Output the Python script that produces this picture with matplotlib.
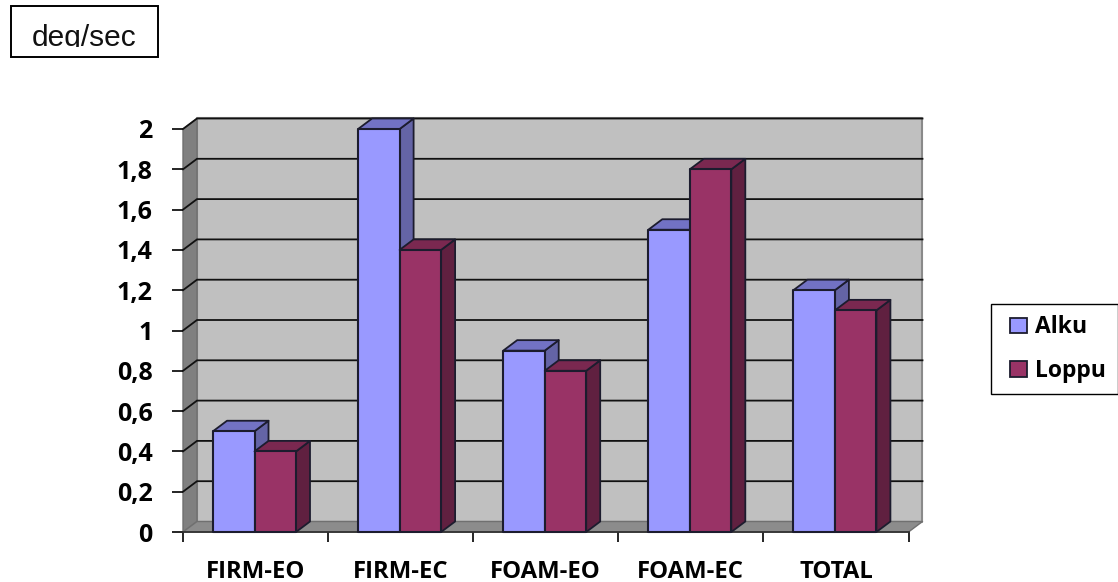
import matplotlib
matplotlib.use("Agg")
import matplotlib.pyplot as plt
from matplotlib.legend_handler import HandlerPatch
from matplotlib.patches import Polygon, Patch, Rectangle

categories = ["FIRM-EO", "FIRM-EC", "FOAM-EO", "FOAM-EC", "TOTAL"]
alku = [0.5, 2.0, 0.9, 1.5, 1.2]
loppu = [0.4, 1.4, 0.8, 1.8, 1.1]
y_ticks = [0, 0.2, 0.4, 0.6, 0.8, 1.0, 1.2, 1.4, 1.6, 1.8, 2.0]
y_labels = ["0", "0,2", "0,4", "0,6", "0,8", "1", "1,2", "1,4", "1,6", "1,8", "2"]

W, H = 1118, 582
L, R, B, T = 183, 908.5, 532, 129
FONT = "Open Sans"

fig = plt.figure(figsize=(W / 100, H / 100), dpi=100, facecolor="white")
ax = fig.add_axes([L / W, 1 - B / H, (R - L) / W, (B - T) / H])
ax.set_xlim(0, 5)
ax.set_ylim(0, 2)
for s in ax.spines.values():
    s.set_visible(False)
ax.patch.set_visible(False)

# depth of the pseudo-3D box, in data units
dx = 14 / ((R - L) / 5)
dy = 10.5 / ((B - T) / 2)
bar_w = 41.5 / ((R - L) / 5)
bar_start = 30 / ((R - L) / 5)


def poly(pts, fc, ec, lw=1.0, z=1):
    ax.add_patch(Polygon(pts, closed=True, facecolor=fc, edgecolor=ec,
                         linewidth=lw, zorder=z, clip_on=False, joinstyle="round"))


# walls and floor
poly([(dx, dy), (5 + dx, dy), (5 + dx, 2 + dy), (dx, 2 + dy)], "#C0C0C0", "#8a8a8a", 1.5, 1)
poly([(0, 0), (dx, dy), (dx, 2 + dy), (0, 2)], "#808080", "#707070", 1.0, 1)
poly([(0, 0), (5, 0), (5 + dx, dy), (dx, dy)], "#8c8c8c", "#707070", 1.0, 1)

# gridlines along the back wall and across the side wall
for v in y_ticks[1:]:
    ax.plot([0, dx, 5 + dx], [v, v + dy, v + dy], color="#111111", lw=1.3,
            zorder=2, clip_on=False, solid_joinstyle="miter")
ax.plot([0, 5], [0, 0], color="#333333", lw=1.3, zorder=2, clip_on=False)


def bar3d(x, v, front, top, side):
    ec = "#1c1c2e"
    poly([(x + bar_w, 0), (x + bar_w + dx, dy), (x + bar_w + dx, v + dy), (x + bar_w, v)],
         side, ec, 1.3, 3)
    poly([(x, v), (x + bar_w, v), (x + bar_w + dx, v + dy), (x + dx, v + dy)],
         top, ec, 1.3, 3)
    poly([(x, 0), (x + bar_w, 0), (x + bar_w, v), (x, v)], front, ec, 1.5, 3)


for i, (a, b) in enumerate(zip(alku, loppu)):
    x0 = i + bar_start
    bar3d(x0, a, "#9999FF", "#7272C4", "#6464A6")
    bar3d(x0 + bar_w, b, "#993366", "#7A2850", "#602040")

# axis ticks and labels
ax.set_yticks(y_ticks)
ax.set_yticklabels(y_labels, fontfamily=FONT, fontweight="bold", fontsize=18, color="black")
ax.tick_params(axis="y", length=8, width=1.2, pad=14, color="black")
ax.set_xticks(range(6))
ax.set_xticklabels([])
ax.tick_params(axis="x", which="major", length=7, width=1.2, color="black")
ax.set_xticks([i + 0.5 for i in range(5)], minor=True)
ax.set_xticklabels(categories, minor=True, fontfamily=FONT, fontweight="bold",
                   fontsize=17.2, color="black")
ax.tick_params(axis="x", which="minor", length=0, pad=20)

# legend, running off the right-hand edge of the figure
handles = [Patch(facecolor="#9999FF", edgecolor="#1c1c2e", linewidth=1.3, label="Alku"),
           Patch(facecolor="#993366", edgecolor="#1c1c2e", linewidth=1.3, label="Loppu")]
fig.legend(handles=handles, loc="upper left", bbox_to_anchor=(991 / W, 1 - 304 / H),
           borderaxespad=0, frameon=True, fancybox=False, edgecolor="black", framealpha=1,
           handlelength=1.09, handleheight=0.65, handletextpad=0.35, labelspacing=0.85,
           borderpad=0.50, prop={"family": FONT, "weight": "bold", "size": 16.5},
           handler_map={Patch: HandlerPatch(xpad=0.35)})

# unit caption in its own box, with the text cut off by the inner frame
fig.add_artist(Rectangle((10.5 / W, 1 - 57 / H), 147 / W, 51 / H, transform=fig.transFigure,
                         facecolor="white", edgecolor="black", linewidth=1.4))
caption = fig.text(84 / W, 1 - 35 / H, "deg/sec", ha="center", va="center_baseline",
                   fontfamily="Liberation Sans", fontsize=21.5, color="#111111")
caption.set_clip_path(Rectangle((10 / W, 1 - 47 / H), 148 / W, 41 / H,
                                transform=fig.transFigure))
caption.set_clip_on(True)

fig.savefig("out.png", dpi=100, facecolor="white")
